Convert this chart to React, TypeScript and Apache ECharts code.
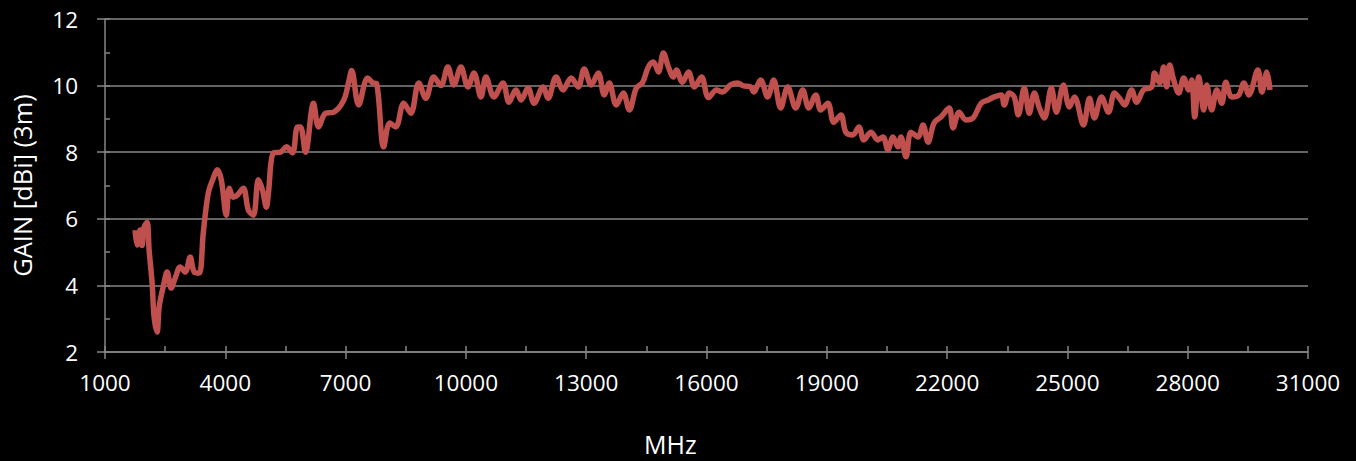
import React, { useEffect, useRef } from "react";
import * as echarts from "echarts";

const xTicks = { min: 1000, max: 31000, step: 3000 };
const yTicks = { min: 2, max: 12, step: 2 };
const xTitle = "MHz";
const yTitle = "GAIN [dBi] (3m)";

const freqMHz = [
  1750, 1800, 1875, 1925, 1975, 2050, 2100, 2175, 2225, 2300, 2350, 2450, 2550, 2650, 2750, 2875, 3000,
  3125, 3225, 3350, 3450, 3575, 3700, 3800, 3900, 4025, 4100, 4200, 4300, 4450, 4575, 4700, 4825, 4925,
  5025, 5075, 5200, 5375, 5525, 5675, 5800, 5875, 6000, 6200, 6325, 6500, 6700, 6950, 7075, 7150, 7325,
  7550, 7675, 7775, 7950, 8100, 8250, 8450, 8625, 8825, 9000, 9200, 9375, 9550, 9700, 9875, 10050,
  10200, 10375, 10500, 10700, 10925, 11075, 11250, 11375, 11550, 11700, 11925, 12050, 12250, 12425,
  12625, 12800, 12950, 13125, 13300, 13450, 13575, 13750, 13925, 14075, 14250, 14400, 14550, 14675,
  14800, 14925, 15050, 15175, 15250, 15400, 15550, 15700, 15875, 16050, 16250, 16400, 16600, 16775,
  16925, 17100, 17175, 17350, 17525, 17675, 17850, 18025, 18225, 18400, 18550, 18725, 18850, 19025,
  19175, 19350, 19475, 19650, 19800, 19925, 20100, 20275, 20400, 20525, 20650, 20775, 20850, 20975,
  21100, 21275, 21400, 21525, 21675, 21850, 22050, 22150, 22300, 22475, 22650, 22850, 23025, 23175,
  23350, 23425, 23550, 23675, 23775, 23925, 24050, 24175, 24300, 24425, 24600, 24725, 24900, 25050,
  25175, 25400, 25550, 25675, 25850, 26025, 26175, 26300, 26425, 26600, 26725, 26900, 27100, 27175,
  27300, 27400, 27475, 27550, 27650, 27775, 27900, 28025, 28100, 28175, 28275, 28400, 28475, 28600,
  28725, 28850, 28950, 29100, 29275, 29400, 29525, 29750, 29850, 29975, 30050,
];

const gainDBi = [
  5.66, 5.21, 5.66, 5.2, 5.75, 5.9, 5.06, 4.07, 3.05, 2.6, 3.35, 3.95, 4.4, 3.92, 4.22, 4.55, 4.4,
  4.85, 4.4, 4.37, 5.57, 6.77, 7.22, 7.47, 7.17, 6.11, 6.92, 6.65, 6.71, 6.92, 6.26, 6.11, 7.17, 6.87,
  6.35, 6.77, 7.98, 8.0, 8.16, 7.98, 8.76, 8.76, 8.0, 9.47, 8.76, 9.17, 9.2, 9.55, 10.1, 10.45, 9.42,
  10.23, 10.08, 10.05, 8.16, 8.88, 8.76, 9.47, 9.17, 10.08, 9.62, 10.26, 10.0, 10.56, 10.02, 10.56,
  9.96, 10.38, 9.66, 10.26, 9.66, 10.08, 9.5, 9.87, 9.57, 9.93, 9.47, 9.96, 9.62, 10.26, 9.87, 10.23,
  9.96, 10.5, 10.02, 10.38, 9.72, 10.08, 9.42, 9.78, 9.27, 9.93, 10.08, 10.56, 10.71, 10.41, 10.98,
  10.56, 10.26, 10.47, 10.1, 10.41, 9.96, 10.26, 9.64, 9.87, 9.81, 10.02, 10.08, 9.99, 9.96, 9.81, 10.17,
  9.66, 10.17, 9.33, 9.96, 9.33, 9.87, 9.33, 9.72, 9.27, 9.47, 8.9, 9.12, 8.6, 8.52, 8.76, 8.37, 8.6,
  8.37, 8.46, 8.07, 8.46, 8.16, 8.46, 7.86, 8.6, 8.46, 8.82, 8.3, 8.88, 9.06, 9.33, 8.73, 9.2, 8.97,
  9.03, 9.47, 9.57, 9.66, 9.72, 9.42, 9.78, 9.66, 9.12, 9.93, 9.17, 9.78, 9.33, 9.03, 9.93, 9.2,
  10.02, 9.36, 9.66, 8.82, 9.62, 9.03, 9.66, 9.2, 9.78, 9.62, 9.42, 9.87, 9.5, 9.87, 9.96, 10.38,
  10.08, 10.56, 9.96, 10.62, 10.17, 9.78, 10.23, 9.87, 10.17, 9.06, 10.26, 9.27, 10.02, 9.27, 9.87,
  9.47, 10.1, 9.66, 9.72, 10.08, 9.72, 10.47, 9.81, 10.41, 9.87,
];

const gray = "#868686";
const font = "'Open Sans', sans-serif";

export default function App() {
  const ref = useRef<HTMLDivElement>(null);
  useEffect(() => {
    if (!ref.current) return;
    const chart = echarts.init(ref.current, null, { renderer: "svg" });
    const data = freqMHz.map((f, i) => [f, gainDBi[i]]);
    chart.setOption({
      animation: false,
      backgroundColor: "#000000",
      grid: {
        left: 105,
        right: 48,
        top: 19,
        bottom: 109,
        containLabel: false,
        outerBoundsMode: "none",
      },
      xAxis: [
        {
          type: "value",
          min: xTicks.min,
          max: xTicks.max,
          interval: xTicks.step,
          axisLine: { show: true, lineStyle: { color: gray, width: 1.5 } },
          axisTick: { show: true, inside: false, length: 7, lineStyle: { color: gray, width: 1.5 } },
          splitLine: { show: false },
          axisLabel: {
            color: "#ffffff",
            fontSize: 22.5,
            fontFamily: font,
            margin: 19,
            formatter: (v: number) => String(v),
          },
        },
        {
          type: "value",
          position: "bottom",
          min: xTicks.min,
          max: xTicks.max,
          interval: xTicks.step / 2,
          axisLine: { show: false },
          axisTick: { show: true, inside: true, length: 6, lineStyle: { color: gray, width: 1.5 } },
          splitLine: { show: false },
          axisLabel: { show: false },
        },
      ],
      yAxis: [
        {
          type: "value",
          min: yTicks.min,
          max: yTicks.max,
          interval: yTicks.step,
          axisLine: { show: true, lineStyle: { color: gray, width: 1.5 } },
          axisTick: { show: true, inside: false, length: 8, lineStyle: { color: gray, width: 1.5 } },
          splitLine: { show: true, lineStyle: { color: gray, width: 1.5 } },
          axisLabel: {
            color: "#ffffff",
            fontSize: 22.5,
            fontFamily: font,
            margin: 27,
            formatter: (v: number) => String(v),
          },
          name: yTitle,
          nameLocation: "middle",
          nameGap: 70,
          nameTextStyle: { color: "#ffffff", fontSize: 25.5, fontFamily: font },
        },
        {
          type: "value",
          position: "left",
          min: yTicks.min,
          max: yTicks.max,
          interval: yTicks.step / 2,
          axisLine: { show: false },
          axisTick: { show: true, inside: true, length: 5, lineStyle: { color: gray, width: 1.5 } },
          splitLine: { show: false },
          axisLabel: { show: false },
        },
      ],
      graphic: [
        {
          type: "text",
          left: 644,
          top: 431,
          style: { text: xTitle, fill: "#ffffff", fontSize: 25, fontFamily: font },
        },
      ],
      series: [
        {
          type: "line",
          xAxisIndex: 0,
          yAxisIndex: 0,
          data,
          smooth: 0.35,
          showSymbol: false,
          lineStyle: { color: "#C0504D", width: 5.5 },
          itemStyle: { color: "#C0504D" },
        },
      ],
    });
    return () => chart.dispose();
  }, []);
  return (
    <div
      ref={ref}
      style={{ position: "fixed", left: 0, top: 0, width: 1356, height: 461, background: "#000" }}
    />
  );
}
